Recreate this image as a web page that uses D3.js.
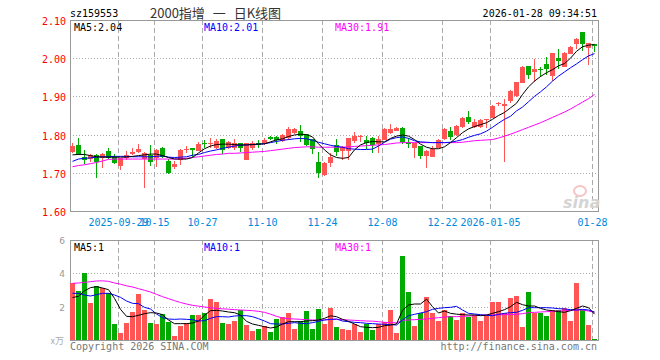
<!DOCTYPE html>
<html>
<head>
<meta charset="utf-8">
<script src="https://cdn.jsdelivr.net/npm/d3@7"></script>
<style>
  body { margin: 0; background: #fff; }
  svg { display: block; }
  text { font-family: "DejaVu Sans Mono", monospace; }
</style>
</head>
<body>
<div id="chart"></div>
<script>
// trading days shown (2025-09-17 .. 2026-01-28)
var dates = [
  "2025-09-17","2025-09-18","2025-09-19","2025-09-22","2025-09-23","2025-09-24","2025-09-25","2025-09-26","2025-09-29","2025-09-30",
  "2025-10-09","2025-10-10","2025-10-13","2025-10-14","2025-10-15","2025-10-16","2025-10-17","2025-10-20","2025-10-21","2025-10-22",
  "2025-10-23","2025-10-24","2025-10-27","2025-10-28","2025-10-29","2025-10-30","2025-10-31","2025-11-03","2025-11-04","2025-11-05",
  "2025-11-06","2025-11-07","2025-11-10","2025-11-11","2025-11-12","2025-11-13","2025-11-14","2025-11-17","2025-11-18","2025-11-19",
  "2025-11-20","2025-11-21","2025-11-24","2025-11-25","2025-11-26","2025-11-27","2025-11-28","2025-12-01","2025-12-02","2025-12-03",
  "2025-12-04","2025-12-05","2025-12-08","2025-12-09","2025-12-10","2025-12-11","2025-12-12","2025-12-15","2025-12-16","2025-12-17",
  "2025-12-18","2025-12-19","2025-12-22","2025-12-23","2025-12-24","2025-12-25","2025-12-26","2025-12-29","2025-12-30","2025-12-31",
  "2026-01-05","2026-01-06","2026-01-07","2026-01-08","2026-01-09","2026-01-12","2026-01-13","2026-01-14","2026-01-15","2026-01-16",
  "2026-01-19","2026-01-20","2026-01-21","2026-01-22","2026-01-23","2026-01-26","2026-01-27","2026-01-28"
];

var open = [1.754,1.773,1.742,1.735,1.747,1.740,1.757,1.742,1.718,1.740,
  1.749,1.755,1.736,1.747,1.738,1.765,1.731,1.716,1.734,1.759,
  1.765,1.757,1.777,1.775,1.764,1.788,1.764,1.764,1.778,1.734,
  1.764,1.779,1.778,1.794,1.795,1.783,1.790,1.805,1.810,1.802,
  1.788,1.729,1.694,1.726,1.773,1.758,1.758,1.783,1.794,1.786,
  1.790,1.775,1.786,1.805,1.809,1.817,1.781,1.766,1.770,1.744,
  1.742,1.766,1.789,1.809,1.799,1.819,1.845,1.819,1.819,1.838,
  1.844,1.879,1.875,1.887,1.900,1.936,1.980,1.965,1.971,1.985,
  1.954,2.000,1.978,2.012,2.036,2.068,2.026,2.036];
var close = [1.771,1.748,1.734,1.746,1.729,1.750,1.740,1.725,1.738,1.747,
  1.754,1.763,1.751,1.729,1.760,1.741,1.700,1.723,1.760,1.762,
  1.760,1.775,1.775,1.777,1.784,1.760,1.780,1.778,1.766,1.778,
  1.778,1.773,1.787,1.788,1.785,1.799,1.814,1.814,1.796,1.774,
  1.762,1.699,1.726,1.742,1.755,1.767,1.790,1.797,1.796,1.777,
  1.773,1.788,1.814,1.814,1.817,1.781,1.776,1.777,1.745,1.757,
  1.762,1.786,1.814,1.795,1.823,1.844,1.834,1.834,1.838,1.840,
  1.875,1.882,1.879,1.914,1.937,1.978,1.955,1.972,1.969,1.973,
  2.013,1.993,2.013,2.029,2.050,2.036,2.039,2.033];
var high = [1.777,1.792,1.760,1.750,1.750,1.753,1.764,1.749,1.740,1.757,
  1.766,1.775,1.754,1.773,1.763,1.767,1.735,1.731,1.761,1.770,
  1.765,1.781,1.787,1.790,1.788,1.788,1.783,1.788,1.778,1.778,
  1.783,1.785,1.790,1.797,1.797,1.802,1.821,1.818,1.825,1.802,
  1.788,1.755,1.729,1.753,1.788,1.770,1.791,1.808,1.799,1.796,
  1.793,1.796,1.818,1.827,1.820,1.820,1.790,1.779,1.771,1.759,
  1.770,1.788,1.817,1.819,1.825,1.846,1.863,1.840,1.841,1.842,
  1.877,1.886,1.893,1.917,1.939,1.980,1.980,1.997,1.978,2.004,
  2.013,2.023,2.015,2.031,2.054,2.068,2.039,2.036];
var low = [1.753,1.747,1.722,1.727,1.686,1.712,1.737,1.722,1.707,1.734,
  1.747,1.751,1.659,1.718,1.716,1.740,1.698,1.710,1.720,1.753,
  1.742,1.757,1.764,1.764,1.762,1.750,1.762,1.760,1.755,1.733,
  1.760,1.766,1.773,1.785,1.776,1.781,1.786,1.802,1.781,1.770,
  1.749,1.687,1.692,1.716,1.744,1.734,1.734,1.779,1.781,1.761,
  1.753,1.751,1.786,1.802,1.809,1.775,1.766,1.740,1.735,1.713,
  1.742,1.764,1.786,1.786,1.796,1.818,1.827,1.816,1.816,1.816,
  1.844,1.875,1.729,1.884,1.899,1.934,1.945,1.939,1.952,1.956,
  1.941,1.971,1.976,2.010,2.025,2.019,1.982,2.017];

var ma5 = [1.747,1.748,1.748,1.745,1.742,1.741,1.741,1.741,1.741,1.741,
  1.743,1.745,1.747,1.749,1.749,1.745,1.740,1.736,1.736,1.736,
  1.740,1.752,1.763,1.770,1.774,1.775,1.775,1.774,1.773,1.773,
  1.774,1.775,1.776,1.781,1.786,1.789,1.795,1.799,1.801,1.800,
  1.794,1.776,1.760,1.747,1.740,1.738,1.740,1.760,1.773,1.779,
  1.782,1.781,1.781,1.790,1.796,1.799,1.796,1.787,1.775,1.767,
  1.763,1.763,1.768,1.779,1.792,1.805,1.815,1.821,1.826,1.831,
  1.840,1.850,1.858,1.870,1.882,1.905,1.925,1.940,1.952,1.962,
  1.970,1.980,1.986,2.000,2.018,2.030,2.034,2.036];
var ma10 = [1.730,1.736,1.738,1.739,1.741,1.742,1.742,1.743,1.743,1.743,
  1.742,1.742,1.742,1.742,1.743,1.744,1.741,1.740,1.741,1.742,
  1.746,1.748,1.753,1.757,1.760,1.764,1.767,1.770,1.772,1.773,
  1.774,1.775,1.776,1.779,1.782,1.785,1.787,1.789,1.790,1.789,
  1.785,1.780,1.776,1.772,1.769,1.767,1.763,1.762,1.761,1.761,
  1.762,1.770,1.780,1.788,1.792,1.794,1.790,1.784,1.781,1.780,
  1.779,1.779,1.779,1.780,1.783,1.787,1.793,1.798,1.802,1.809,
  1.819,1.830,1.840,1.848,1.862,1.872,1.886,1.900,1.912,1.925,
  1.940,1.953,1.964,1.975,1.985,1.996,2.006,2.012];
var ma30 = [1.716,1.719,1.721,1.724,1.727,1.731,1.735,1.736,1.736,1.736,
  1.736,1.736,1.736,1.736,1.736,1.736,1.736,1.736,1.737,1.738,
  1.740,1.742,1.744,1.746,1.748,1.749,1.751,1.751,1.752,1.753,
  1.754,1.755,1.756,1.758,1.760,1.762,1.764,1.766,1.767,1.768,
  1.768,1.767,1.767,1.767,1.767,1.767,1.768,1.769,1.770,1.771,
  1.772,1.773,1.774,1.776,1.778,1.779,1.779,1.779,1.779,1.779,
  1.779,1.779,1.779,1.779,1.779,1.780,1.782,1.784,1.785,1.786,
  1.787,1.791,1.796,1.801,1.807,1.813,1.819,1.825,1.831,1.838,
  1.845,1.852,1.859,1.867,1.876,1.885,1.894,1.905];

// volume (x万)
var volume = [3.40,2.94,4.04,2.24,3.24,3.10,2.84,0.96,0.44,1.04,
  1.70,2.78,1.80,1.04,0.96,1.56,1.10,0.26,0.86,1.04,
  1.52,1.52,1.64,2.48,2.30,1.04,0.98,1.14,1.80,0.92,
  0.56,0.66,0.86,0.48,1.28,1.38,1.64,0.66,1.14,1.74,
  0.66,1.86,0.96,1.94,0.80,0.66,0.60,0.96,0.48,0.96,
  0.60,0.96,1.10,1.80,0.44,5.04,2.88,0.84,1.60,2.56,
  1.64,1.14,1.80,1.46,1.20,1.64,1.38,1.50,1.14,1.50,
  2.28,2.28,1.60,2.54,2.64,0.80,2.88,1.64,1.64,1.46,
  1.80,1.80,1.90,1.14,3.42,1.80,0.92,0.06];
var vma5 = [2.55,2.62,2.95,3.14,3.20,3.12,3.02,2.50,1.84,1.42,
  1.40,1.48,1.58,1.64,1.62,1.52,1.20,0.98,0.98,0.98,
  1.02,1.14,1.48,1.76,1.78,1.74,1.68,1.64,1.50,1.12,
  0.96,0.88,0.80,0.72,0.78,0.96,1.10,1.10,1.10,1.14,
  1.16,1.20,1.30,1.45,1.40,1.24,1.12,0.96,0.80,0.76,
  0.74,0.76,0.86,0.90,0.96,1.78,2.10,2.16,2.16,2.45,
  2.00,1.62,1.74,1.60,1.55,1.52,1.50,1.50,1.46,1.50,
  1.60,1.70,1.82,2.00,2.26,2.12,2.04,2.04,1.90,1.80,
  1.76,1.70,1.66,1.76,1.90,2.04,1.94,1.55];
var vma10 = [2.80,2.80,2.70,2.64,2.72,2.80,2.80,2.70,2.56,2.34,
  2.20,2.18,1.96,1.86,1.56,1.34,1.26,1.24,1.26,1.24,
  1.22,1.14,1.16,1.30,1.40,1.40,1.38,1.44,1.46,1.46,
  1.40,1.28,1.14,0.98,0.96,0.96,1.00,1.04,1.00,0.98,
  1.04,1.12,1.20,1.24,1.26,1.14,1.10,1.06,1.04,1.00,
  0.98,0.96,0.94,0.92,0.90,1.20,1.46,1.54,1.62,1.70,
  1.84,1.90,1.94,1.96,2.02,1.80,1.60,1.56,1.52,1.48,
  1.46,1.54,1.60,1.64,1.66,1.78,1.94,1.94,1.94,1.94,
  1.92,1.88,1.86,1.82,1.80,1.84,1.80,1.68];
var vma30 = [3.40,3.42,3.46,3.50,3.54,3.55,3.52,3.42,3.35,3.25,
  3.18,3.08,2.98,2.88,2.74,2.60,2.48,2.36,2.25,2.16,
  2.08,2.03,1.98,1.94,1.90,1.87,1.85,1.82,1.80,1.78,
  1.76,1.72,1.66,1.55,1.42,1.32,1.28,1.26,1.24,1.22,
  1.20,1.20,1.21,1.23,1.24,1.22,1.20,1.18,1.16,1.14,
  1.13,1.10,1.06,1.04,1.03,1.18,1.20,1.22,1.24,1.26,
  1.30,1.34,1.38,1.40,1.40,1.42,1.44,1.46,1.48,1.50,
  1.50,1.51,1.52,1.53,1.54,1.58,1.64,1.66,1.68,1.70,
  1.72,1.74,1.76,1.78,1.80,1.80,1.74,1.66];

var priceTicks = [2.10, 2.00, 1.90, 1.80, 1.70, 1.60];
var volTicks = [6, 4, 2];
var dateTicks = [
  {date: "2025-09-29", label: "2025-09-29"},
  {date: "2025-10-15", label: "10-15"},
  {date: "2025-10-27", label: "10-27"},
  {date: "2025-11-10", label: "11-10"},
  {date: "2025-11-24", label: "11-24"},
  {date: "2025-12-08", label: "12-08"},
  {date: "2025-12-22", label: "12-22"},
  {date: "2026-01-05", label: "2026-01-05"},
  {date: "2026-01-28", label: "01-28"}
];

var upColor = "#ff5555", downColor = "#00aa00";
var gridColor = "#aaaaaa", frameColor = "#999999";

var svg = d3.select("#chart").append("svg")
    .attr("width", 660)
    .attr("height", 360);

var left = 70, right = 597;
var x = d3.scaleBand()
    .domain(dates)
    .range([left, right])
    .paddingInner(1 / 6)
    .paddingOuter(0);
var cx = function(d) { return Math.round(x(d)) + 2.5; };

var y = d3.scaleLinear().domain([1.60, 2.10]).range([211, 20]);
var yv = d3.scaleLinear().domain([0, 6]).range([340, 240]);

// header
svg.append("text").attr("x", 70).attr("y", 17).text("sz159553")
    .style("font-size", "10px").style("fill", "#000");
svg.append("text").attr("x", 150).attr("y", 18).text("2000指增 一 日K线图")
    .style("font-family", "'Noto Sans CJK SC', sans-serif")
    .style("font-size", "13px").style("word-spacing", "5px").style("fill", "#333");
svg.append("text").attr("x", 597).attr("y", 17).text("2026-01-28 09:34:51")
    .attr("text-anchor", "end")
    .style("font-size", "10px").style("fill", "#000");

// panels
function panel(y0, y1, scale, ticks) {
    var g = svg.append("g");
    g.selectAll(".hgrid").data(ticks).enter().append("line")
        .attr("x1", left).attr("x2", right + 1)
        .attr("y1", function(d) { return Math.round(scale(d)) + 0.5; })
        .attr("y2", function(d) { return Math.round(scale(d)) + 0.5; })
        .style("stroke", gridColor).style("stroke-dasharray", "1,2");
    g.selectAll(".vgrid").data(dateTicks).enter().append("line")
        .attr("x1", function(d) { return Math.round(x(d.date)) + 0.5; })
        .attr("x2", function(d) { return Math.round(x(d.date)) + 0.5; })
        .attr("y1", y0).attr("y2", y1)
        .style("stroke", gridColor).style("stroke-dasharray", "5,3");
    g.append("rect")
        .attr("x", left + 0.5).attr("y", y0 + 0.5)
        .attr("width", right + 1 - left).attr("height", y1 - y0)
        .style("fill", "none").style("stroke", frameColor);
    return g;
}

panel(20, 211, y, [2.0, 1.9, 1.8, 1.7]);
panel(240, 340, yv, [4, 2]);

// price labels
svg.selectAll(".plabel").data(priceTicks).enter().append("text")
    .attr("x", 66).attr("y", function(d) { return y(d) + 5; })
    .attr("text-anchor", "end")
    .text(function(d) { return d.toFixed(2); })
    .style("font-size", "10px").style("fill", "#ff0000");

// volume labels
svg.selectAll(".vlabel").data(volTicks).enter().append("text")
    .attr("x", 65).attr("y", function(d) { return yv(d) + 4; })
    .attr("text-anchor", "end")
    .text(function(d) { return d; })
    .style("font-family", "'DejaVu Sans', sans-serif")
    .style("font-size", "9px").style("fill", "#999");
svg.append("text").attr("x", 64).attr("y", 344).attr("text-anchor", "end")
    .text("x万")
    .style("font-family", "'Noto Sans CJK SC', sans-serif")
    .style("font-size", "9px").style("fill", "#aaa");

// date labels (first two overlap, as in the original)
svg.selectAll(".dlabel").data(dateTicks).enter().append("text")
    .attr("x", function(d) { return Math.round(x(d.date)) + 0.5; })
    .attr("y", 226)
    .attr("text-anchor", "middle")
    .text(function(d) { return d.label; })
    .style("font-size", "10px").style("fill", "#0088dd");

// sina watermark
svg.append("ellipse").attr("cx", 580).attr("cy", 191).attr("rx", 6).attr("ry", 5)
    .style("fill", "none").style("stroke", "#f6c4c4").style("stroke-width", 2);
svg.append("text").attr("x", 563).attr("y", 208).text("sina")
    .style("font-family", "'DejaVu Sans', sans-serif")
    .style("font-size", "16px").style("font-style", "italic").style("font-weight", "bold")
    .style("fill", "#d4d4d4");

// candles
var idx = d3.range(dates.length);
var candles = svg.append("g").attr("shape-rendering", "crispEdges");
candles.selectAll(".wick").data(idx).enter().append("line")
    .attr("x1", function(i) { return cx(dates[i]); })
    .attr("x2", function(i) { return cx(dates[i]); })
    .attr("y1", function(i) { return y(high[i]); })
    .attr("y2", function(i) { return y(low[i]); })
    .style("stroke", function(i) { return close[i] >= open[i] ? upColor : downColor; });
candles.selectAll(".body").data(idx).enter().append("rect")
    .attr("x", function(i) { return Math.round(x(dates[i])); })
    .attr("width", 5)
    .attr("y", function(i) { return y(Math.max(open[i], close[i])); })
    .attr("height", function(i) { return Math.max(1, Math.abs(y(open[i]) - y(close[i]))); })
    .style("fill", function(i) { return close[i] >= open[i] ? upColor : downColor; });

// price MA lines
function maLine(values, scale, color) {
    var line = d3.line()
        .x(function(d, i) { return cx(dates[i]); })
        .y(function(d) { return scale(d); });
    svg.append("path").datum(values).attr("d", line)
        .style("fill", "none").style("stroke", color).style("stroke-width", 1);
}
maLine(ma30, y, "#ff00ff");
maLine(ma10, y, "#0000ff");
maLine(ma5, y, "#000000");

// volume bars
svg.append("g").attr("shape-rendering", "crispEdges")
    .selectAll(".vol").data(idx).enter().append("rect")
    .attr("x", function(i) { return Math.round(x(dates[i])); })
    .attr("width", 5)
    .attr("y", function(i) { return yv(volume[i]); })
    .attr("height", function(i) { return yv(0) - yv(volume[i]); })
    .style("fill", function(i) { return close[i] >= open[i] ? upColor : downColor; });

maLine(vma30, yv, "#ff00ff");
maLine(vma10, yv, "#0000ff");
maLine(vma5, yv, "#000000");

// MA legends
var legends = [
    {x: 74, y: 31, text: "MA5:2.04", color: "#000"},
    {x: 204, y: 31, text: "MA10:2.01", color: "#0000ff"},
    {x: 335, y: 31, text: "MA30:1.91", color: "#ff00ff"},
    {x: 74, y: 251, text: "MA5:1", color: "#000"},
    {x: 204, y: 251, text: "MA10:1", color: "#0000ff"},
    {x: 335, y: 251, text: "MA30:1", color: "#ff00ff"}
];
svg.selectAll(".legend").data(legends).enter().append("text")
    .attr("x", function(d) { return d.x; })
    .attr("y", function(d) { return d.y; })
    .text(function(d) { return d.text; })
    .style("font-size", "10px")
    .style("fill", function(d) { return d.color; });

// footer
svg.append("text").attr("x", 70).attr("y", 350).text("Copyright 2026 SINA.COM")
    .style("font-size", "10px").style("fill", "#777");
svg.append("text").attr("x", 597).attr("y", 350).attr("text-anchor", "end")
    .text("http://finance.sina.com.cn")
    .style("font-size", "10px").style("fill", "#777");
</script>
</body>
</html>
